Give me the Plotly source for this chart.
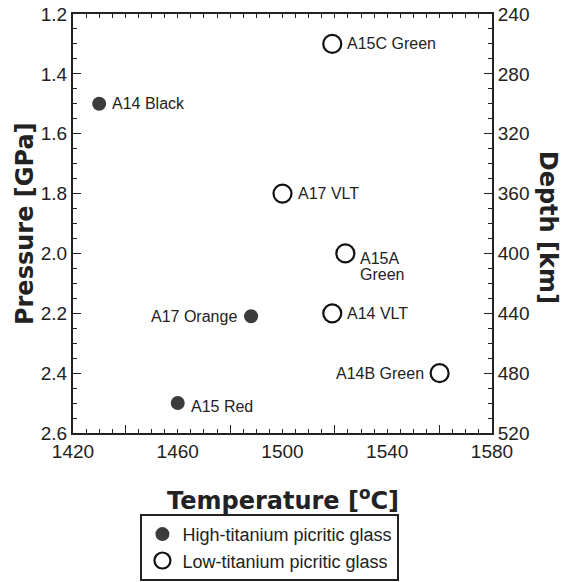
import plotly.graph_objects as go

# Data
high_names = ["A14 Black", "A17 Orange", "A15 Red"]
high_temp = [1430, 1488, 1460]
high_pres = [1.5, 2.21, 2.5]

low_names = ["A15C Green", "A17 VLT", "A15A<br>Green", "A14 VLT", "A14B Green"]
low_temp = [1519, 1500, 1524, 1519, 1560]
low_pres = [1.3, 1.8, 2.0, 2.2, 2.4]

x_ticks = [1420, 1460, 1500, 1540, 1580]
x_mid_ticks = [1440, 1480, 1520, 1560]
p_ticks = [1.2, 1.4, 1.6, 1.8, 2.0, 2.2, 2.4, 2.6]
d_ticks = [240, 280, 320, 360, 400, 440, 480, 520]

FONT = "Liberation Sans, Arial, Helvetica, sans-serif"
TITLE_FONT = "DejaVu Sans, Liberation Sans, Arial, sans-serif"
INK = "#222222"

fig = go.Figure()
fig.add_trace(go.Scatter(
    x=high_temp, y=high_pres, mode="markers", name="High-titanium picritic glass",
    marker=dict(symbol="circle", size=14, color="#3c3c3c", line=dict(width=0)),
))
fig.add_trace(go.Scatter(
    x=low_temp, y=low_pres, mode="markers", name="Low-titanium picritic glass",
    marker=dict(symbol="circle-open", size=18, color="#111111", line=dict(width=2.2)),
))

# label placement (left/right of marker)
high_side = ["right", "left", "right"]
low_side = ["right", "right", "right", "right", "left"]

annotations = []
def add_labels(names, xs, ys, sides, rad):
    for n, x, y, s in zip(names, xs, ys, sides):
        lines = n.split("<br>")
        for i, line in enumerate(lines):
            if len(lines) > 1:
                ysh = -5 - 16 * i
            else:
                ysh = -3 if n == "A15 Red" else 0
            annotations.append(dict(
                x=x, y=y, xref="x", yref="y", text=line, showarrow=False,
                xanchor="left" if s == "right" else "right", yanchor="middle",
                xshift=(rad + 4) if s == "right" else -(rad + 5),
                yshift=ysh,
                font=dict(family=FONT, size=16, color=INK),
            ))
add_labels(high_names, high_temp, high_pres, high_side, 7)
add_labels(low_names, low_temp, low_pres, low_side, 9)

title_font = dict(family=TITLE_FONT, size=24, color=INK)
annotations += [
    dict(text="<b>Pressure [GPa]</b>", x=-0.1146, y=0.501, xref="paper", yref="paper",
         xanchor="center", yanchor="middle", textangle=-90, showarrow=False, font=title_font),
    dict(text="<b>Depth [km]</b>", x=1.134, y=0.492, xref="paper", yref="paper",
         xanchor="center", yanchor="middle", textangle=90, showarrow=False, font=title_font),
    dict(text="<b>Temperature [<sup>o</sup>C]</b>", x=0.501, y=-0.158, xref="paper", yref="paper",
         xanchor="center", yanchor="middle", showarrow=False, font=title_font),
]

axis_common = dict(showline=True, linecolor=INK, linewidth=2, ticks="inside",
                   tickcolor=INK, tickwidth=1, showgrid=False, zeroline=False,
                   automargin=False, ticklabeloverflow="allow",
                   tickfont=dict(family=FONT, size=19, color=INK))

fig.update_layout(
    width=563, height=582,
    margin=dict(l=73, r=71, t=14, b=149, autoexpand=False),
    paper_bgcolor="white", plot_bgcolor="white",
    font=dict(family=FONT, color=INK),
    xaxis=dict(range=[1420, 1580], tickvals=x_ticks, ticklen=4, mirror="allticks",
               minor=dict(tickmode="linear", tick0=1420, dtick=5, ticklen=4,
                          ticks="inside", tickcolor=INK, tickwidth=1),
               **axis_common),
    xaxis2=dict(range=[1420, 1580], overlaying="x", side="bottom", tickvals=x_mid_ticks,
                ticks="inside", ticklen=8, tickcolor=INK, tickwidth=1, showticklabels=False,
                showline=False, showgrid=False, zeroline=False, automargin=False),
    yaxis=dict(range=[2.6, 1.2], tickvals=p_ticks, ticktext=[f"{v:.1f}" for v in p_ticks],
               ticklen=8,
               minor=dict(tickmode="linear", tick0=1.2, dtick=0.05, ticklen=4,
                          ticks="inside", tickcolor=INK, tickwidth=1),
               **axis_common),
    yaxis2=dict(range=[520, 240], overlaying="y", side="right", tickvals=d_ticks,
                ticklen=8,
                minor=dict(tickmode="linear", tick0=240, dtick=10, ticklen=4,
                           ticks="inside", tickcolor=INK, tickwidth=1),
                **axis_common),
    legend=dict(x=0.47, y=-0.353, xanchor="center", yanchor="bottom",
                bordercolor=INK, borderwidth=2, bgcolor="white",
                font=dict(family=FONT, size=18, color=INK),
                itemsizing="trace", tracegroupgap=0, itemwidth=30),
    showlegend=True,
    annotations=annotations,
)
# invisible traces so the extra axes are drawn
fig.add_trace(go.Scatter(x=[None], y=[None], yaxis="y2", showlegend=False, hoverinfo="skip"))
fig.add_trace(go.Scatter(x=[None], y=[None], xaxis="x2", showlegend=False, hoverinfo="skip"))

# remove the default page margin so the figure fills the window exactly
fig.write_html("out.html", config={"displayModeBar": False},
               post_script="document.body.style.margin='0';document.body.style.overflow='hidden';")
